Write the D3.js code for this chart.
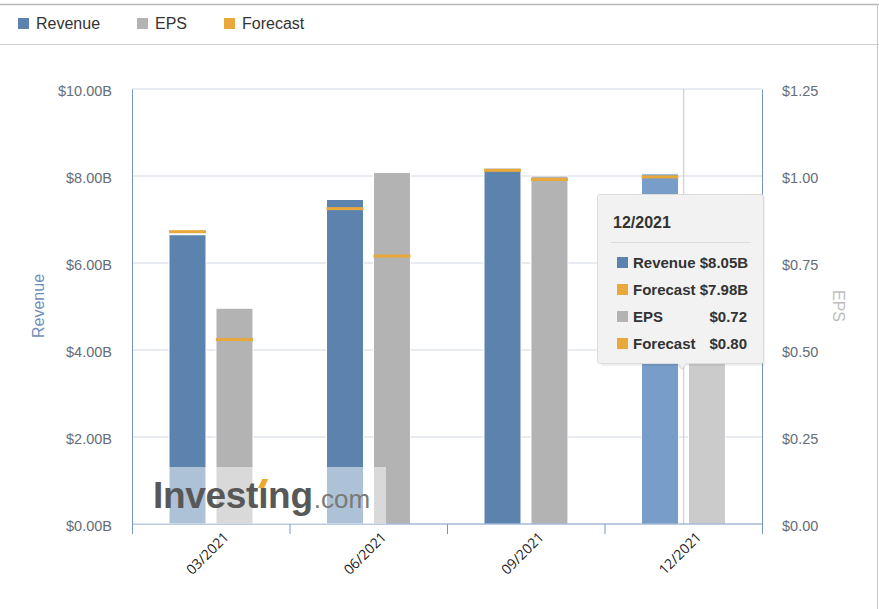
<!DOCTYPE html>
<html>
<head>
<meta charset="utf-8">
<script src="https://cdn.jsdelivr.net/npm/d3@7"></script>
<style>
	body { margin: 0; background: #fff; }
	svg { font-family: "Liberation Sans", Arial, sans-serif; }
</style>
</head>
<body>
<svg id="chart" width="879" height="609"></svg>
<script>
var categories = ["03/2021", "06/2021", "09/2021", "12/2021"];
var revenue = [6.65, 7.46, 8.18, 8.05];
var revenueForecast = [6.72, 7.25, 8.13, 7.98];
var eps = [0.62, 1.01, 1.00, 0.72];
var epsForecast = [0.53, 0.77, 0.99, 0.80];
var revenueTicks = [0, 2, 4, 6, 8, 10];
var epsTicks = [0, 0.25, 0.5, 0.75, 1, 1.25];
var legendItems = ["Revenue", "EPS", "Forecast"];
var hovered = 3;

buildChart();

function buildChart() {
	var svg = d3.select("#chart"),
		width = +svg.attr("width"),
		height = +svg.attr("height");

	var col = { revenue: "#5b83ae", eps: "#b3b3b3", forecast: "#e8a83a",
		revenueHover: "#789dc8", epsHover: "#cbcbcb", axis: "#7596c4" };

	var left = 132, right = 762, top = 89, bottom = 524;

	// frame
	svg.append("line").attr("x1", 0).attr("x2", width).attr("y1", 4.5).attr("y2", 4.5)
		.attr("stroke", "#b8b8b8").attr("stroke-width", 1.5);
	svg.append("line").attr("x1", 0).attr("x2", width).attr("y1", 44.5).attr("y2", 44.5)
		.attr("stroke", "#cfcfcf");
	svg.append("line").attr("x1", 877.5).attr("x2", 877.5).attr("y1", 4).attr("y2", height)
		.attr("stroke", "#c8c8c8");

	// legend
	var legendColor = d3.scaleOrdinal().domain(legendItems).range([col.revenue, col.eps, col.forecast]);
	var legendX = d3.scaleOrdinal().domain(legendItems).range([18, 137, 224]);
	var lg = svg.append("g").selectAll("g").data(legendItems).enter().append("g")
		.attr("transform", function(d) { return "translate(" + legendX(d) + ",18)"; });
	lg.append("rect").attr("width", 11).attr("height", 11).attr("fill", function(d) { return legendColor(d); });
	lg.append("text").attr("x", 18).attr("y", 11).attr("font-size", 16).attr("fill", "#333")
		.text(function(d) { return d; });

	var x = d3.scaleBand().domain(categories).range([left, right]);
	var inner = d3.scaleBand().domain(["rev", "eps"])
		.range([x.bandwidth() * 0.235, x.bandwidth() * 0.768]).paddingInner(0.213);
	var yRev = d3.scaleLinear().domain([0, 10]).range([bottom, top]);
	var yEps = d3.scaleLinear().domain([0, 1.25]).range([bottom, top]);

	// grid
	svg.append("g").selectAll("line").data(revenueTicks.slice(1)).enter().append("line")
		.attr("x1", left).attr("x2", right)
		.attr("y1", function(d) { return yRev(d); }).attr("y2", function(d) { return yRev(d); })
		.attr("stroke", "#e8ebf1").attr("stroke-width", 2);

	// left axis
	var leftAxis = svg.append("g").attr("transform", "translate(" + left + ",0)")
		.call(d3.axisLeft(yRev).tickValues(revenueTicks).tickSize(0).tickPadding(20)
			.tickFormat(function(d) { return "$" + d3.format(".2f")(d) + "B"; }));
	leftAxis.select(".domain").attr("stroke", col.axis);
	leftAxis.selectAll("text").attr("font-size", 14.5).attr("fill", "#666d78")
		.attr("font-family", "Liberation Sans, Arial, sans-serif").attr("dy", "0.45em");

	var rightAxis = svg.append("g").attr("transform", "translate(" + right + ",0)")
		.call(d3.axisRight(yEps).tickValues(epsTicks).tickSize(0).tickPadding(20)
			.tickFormat(function(d) { return "$" + d3.format(".2f")(d); }));
	rightAxis.select(".domain").attr("stroke", col.axis);
	rightAxis.selectAll("text").attr("font-size", 14.5).attr("fill", "#666d78")
		.attr("font-family", "Liberation Sans, Arial, sans-serif").attr("dy", "0.45em");

	svg.append("text").attr("transform", "translate(44,306) rotate(-90)")
		.attr("text-anchor", "middle").attr("font-size", 16).attr("fill", "#6f8fbb").text("Revenue");
	svg.append("text").attr("transform", "translate(833,306) rotate(90)")
		.attr("text-anchor", "middle").attr("font-size", 16).attr("fill", "#bdbdbd").text("EPS");

	// crosshair
	svg.append("line")
		.attr("x1", x(categories[hovered]) + x.bandwidth() / 2 + 0.5)
		.attr("x2", x(categories[hovered]) + x.bandwidth() / 2 + 0.5)
		.attr("y1", top).attr("y2", bottom)
		.attr("stroke", "#c4c4c4");

	// bars
	var g = svg.append("g").selectAll("g").data(categories).enter().append("g")
		.attr("transform", function(d) { return "translate(" + x(d) + ",0)"; });

	g.append("rect")
		.attr("x", inner("rev")).attr("width", inner.bandwidth())
		.attr("y", function(d, i) { return yRev(revenue[i]); })
		.attr("height", function(d, i) { return bottom - yRev(revenue[i]); })
		.attr("fill", function(d, i) { return i == hovered ? col.revenueHover : col.revenue; })
		.attr("stroke", "#fff").attr("stroke-width", 1);

	g.append("rect")
		.attr("x", inner("eps")).attr("width", inner.bandwidth())
		.attr("y", function(d, i) { return yEps(eps[i]); })
		.attr("height", function(d, i) { return bottom - yEps(eps[i]); })
		.attr("fill", function(d, i) { return i == hovered ? col.epsHover : col.eps; })
		.attr("stroke", "#fff").attr("stroke-width", 1);

	g.append("rect")
		.attr("x", inner("rev")).attr("width", inner.bandwidth())
		.attr("y", function(d, i) { return yRev(revenueForecast[i]) - 1.5; })
		.attr("height", 3).attr("fill", col.forecast);

	g.append("rect")
		.attr("x", inner("eps")).attr("width", inner.bandwidth())
		.attr("y", function(d, i) { return yEps(epsForecast[i]) - 1.5; })
		.attr("height", 3).attr("fill", col.forecast);

	// x axis
	var xAxis = svg.append("g").attr("transform", "translate(0," + bottom + ")");
	xAxis.append("line").attr("x1", left).attr("x2", right).attr("stroke", col.axis);
	var bounds = categories.map(function(d) { return x(d); }).concat([right]);
	xAxis.selectAll(".tk").data(bounds).enter().append("line")
		.attr("x1", function(d) { return d + 0.5; }).attr("x2", function(d) { return d + 0.5; })
		.attr("y1", 0).attr("y2", 10).attr("stroke", col.axis);
	xAxis.selectAll(".lbl").data(categories).enter().append("text")
		.attr("transform", function(d) {
			return "translate(" + (x(d) + x.bandwidth() / 2 + 19) + ",14) rotate(-45)";
		})
		.attr("text-anchor", "end").attr("font-size", 14).attr("fill", "#222")
		.attr("font-family", "Open Sans, sans-serif")
		.text(function(d) { return d; });

	// watermark
	var wm = svg.append("g");
	wm.append("rect").attr("x", left + 1).attr("y", 467).attr("width", 253).attr("height", bottom - 467)
		.attr("fill", "#fff").attr("opacity", 0.5);
	var word = wm.append("text").attr("x", 153).attr("y", 508).attr("font-size", 37).attr("font-weight", "bold")
		.attr("letter-spacing", -0.3).attr("fill", "#585858").text("Investing");
	var wordEnd = 153 + word.node().getComputedTextLength();
	wm.append("text").attr("x", wordEnd + 1).attr("y", 508).attr("font-size", 26)
		.attr("fill", "#7a7a7a").text(".com");
	var iBox = word.node().getExtentOfChar(6);
	var ix = iBox.x + iBox.width / 2;
	wm.append("rect").attr("x", ix - 6).attr("y", 478).attr("width", 12).attr("height", 10).attr("fill", "#fff");
	wm.append("path")
		.attr("d", "M" + (ix - 5) + ",488 L" + (ix - 1) + ",479 L" + (ix + 5) + ",479 L" + (ix + 1) + ",488 Z")
		.attr("fill", "#f0a830");

	// tooltip
	var tip = svg.append("g").attr("transform", "translate(597,194)");
	tip.append("path")
		.attr("d", "M4,2 H168 V172 H89 L85,177 L81,172 H4 Z")
		.attr("fill", "#000").attr("opacity", 0.06);
	tip.append("path")
		.attr("d", "M3,0.5 H164 Q166.5,0.5 166.5,3 V167 Q166.5,169.5 164,169.5 H89 L85,175 L81,169.5 H3 Q0.5,169.5 0.5,167 V3 Q0.5,0.5 3,0.5 Z")
		.attr("fill", "#f2f2f2").attr("stroke", "#dcdcdc");
	tip.append("text").attr("x", 16).attr("y", 34).attr("font-size", 16).attr("font-weight", "bold")
		.attr("fill", "#333").text(categories[hovered]);
	tip.append("line").attr("x1", 14).attr("x2", 154).attr("y1", 48.5).attr("y2", 48.5).attr("stroke", "#dcdcdc");

	var rows = [
		{ c: col.revenue, label: "Revenue $" + revenue[hovered].toFixed(2) + "B", val: "" },
		{ c: col.forecast, label: "Forecast $" + revenueForecast[hovered].toFixed(2) + "B", val: "" },
		{ c: col.eps, label: "EPS", val: "$" + eps[hovered].toFixed(2) },
		{ c: col.forecast, label: "Forecast", val: "$" + epsForecast[hovered].toFixed(2) }
	];
	var rowY = d3.scalePoint().domain(d3.range(rows.length)).range([68, 149]);
	var row = tip.selectAll(".row").data(rows).enter().append("g")
		.attr("transform", function(d, i) { return "translate(0," + rowY(i) + ")"; });
	row.append("rect").attr("x", 20).attr("y", -5).attr("width", 11).attr("height", 11)
		.attr("fill", function(d) { return d.c; });
	row.append("text").attr("x", 36).attr("y", 5.5).attr("font-size", 15).attr("font-weight", "bold")
		.attr("fill", "#333").text(function(d) { return d.label; });
	row.append("text").attr("x", 150).attr("y", 5.5).attr("font-size", 15).attr("font-weight", "bold")
		.attr("text-anchor", "end").attr("fill", "#333").text(function(d) { return d.val; });
}
</script>
</body>
</html>
